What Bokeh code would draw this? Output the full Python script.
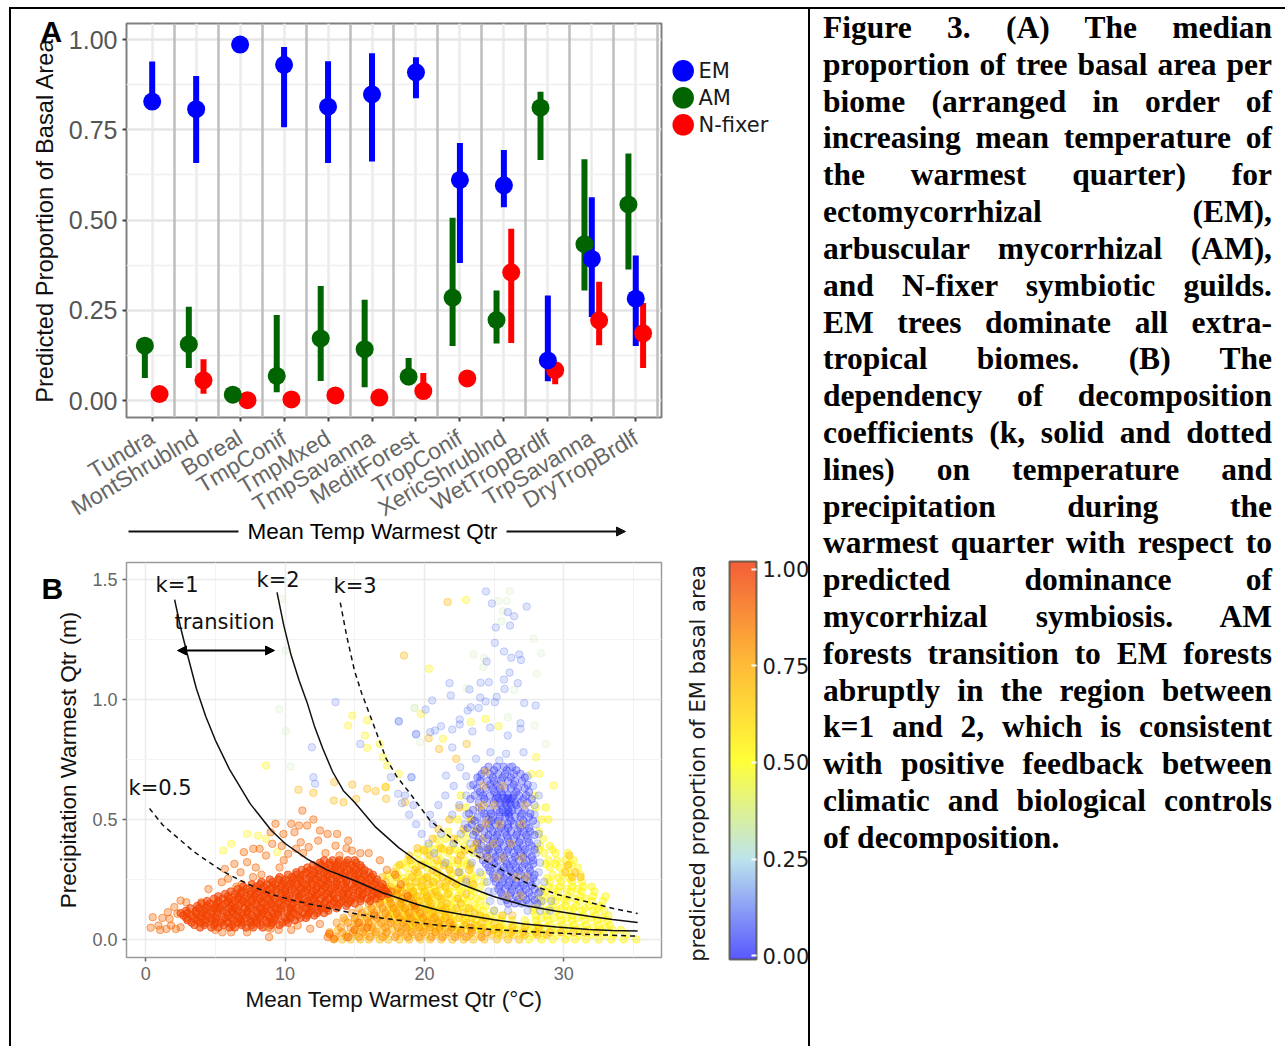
import math
import numpy as np
from bokeh.embed import file_html
from bokeh.resources import INLINE
from bokeh.plotting import figure
from bokeh.layouts import row, column
from bokeh.models import (Range1d, FixedTicker, Grid, Label, Arrow, NormalHead, Div, Spacer,
                          LinearColorMapper, ColorBar, ColumnDataSource, NumeralTickFormatter)

biomes = ["Tundra", "MontShrublnd", "Boreal", "TmpConif", "TmpMxed", "TmpSavanna", "MeditForest",
          "TropConif", "XericShrublnd", "WetTropBrdlf", "TrpSavanna", "DryTropBrdlf"]
em_mid = [0.828, 0.807, 0.986, 0.930, 0.814, 0.848, 0.909, 0.611, 0.596, 0.111, 0.392, 0.282]
em_lo = [0.815, 0.658, 0.980, 0.757, 0.658, 0.662, 0.837, 0.381, 0.535, 0.053, 0.231, 0.151]
em_hi = [0.939, 0.899, 0.992, 0.979, 0.940, 0.962, 0.951, 0.713, 0.694, 0.291, 0.563, 0.402]
am_mid = [0.152, 0.156, 0.016, 0.068, 0.172, 0.142, 0.066, 0.285, 0.223, 0.811, 0.433, 0.543]
am_lo = [0.062, 0.090, 0.010, 0.023, 0.054, 0.037, 0.050, 0.151, 0.158, 0.666, 0.305, 0.363]
am_hi = [0.158, 0.260, 0.022, 0.237, 0.317, 0.279, 0.118, 0.506, 0.305, 0.855, 0.668, 0.684]
nf_mid = [0.018, 0.056, 0.001, 0.003, 0.014, 0.008, 0.026, 0.061, 0.355, 0.084, 0.222, 0.186]
nf_lo = [0.012, 0.019, 0.000, 0.000, 0.008, 0.003, 0.008, 0.055, 0.159, 0.045, 0.153, 0.090]
nf_hi = [0.024, 0.114, 0.004, 0.006, 0.020, 0.014, 0.076, 0.067, 0.476, 0.100, 0.329, 0.270]

# contour curves of panel B (temperature, precipitation)
k05_x = [0.27, 1.2, 2.5, 3.5, 4.54, 5.6, 6.8, 8.0, 9.3, 10.8, 12.25, 14.98, 17.0, 19.3, 21.1, 24.96, 28.0, 31.8, 35.3]
k05_y = [0.546, 0.478, 0.413, 0.364, 0.322, 0.282, 0.246, 0.213, 0.183, 0.160, 0.142, 0.108, 0.089, 0.072, 0.058, 0.041, 0.031, 0.021, 0.014]
k1_x = [2.07, 2.5, 2.95, 3.63, 4.3, 5.0, 6.0, 7.49, 9.0, 10.0, 11.57, 13.0, 14.98, 17.0, 19.5, 21.0, 22.7, 25.0, 27.2, 29.5, 31.8, 33.5, 35.3]
k1_y = [1.416, 1.300, 1.196, 1.046, 0.930, 0.830, 0.710, 0.566, 0.455, 0.400, 0.336, 0.290, 0.246, 0.195, 0.146, 0.122, 0.104, 0.082, 0.065, 0.052, 0.042, 0.038, 0.035]
k2_x = [9.42, 9.9, 10.44, 11.0, 11.57, 12.1, 12.71, 13.4, 14.18, 14.98, 16.5, 18.15, 19.5, 20.4, 22.7, 24.96, 27.2, 29.5, 31.8, 33.5, 35.3]
k2_y = [1.446, 1.310, 1.183, 1.080, 0.989, 0.890, 0.795, 0.700, 0.620, 0.572, 0.468, 0.383, 0.326, 0.300, 0.229, 0.179, 0.142, 0.118, 0.097, 0.083, 0.071]
k3_x = [13.96, 14.4, 14.98, 15.5, 16.1, 17.25, 18.0, 19.08, 20.4, 22.7, 24.96, 27.2, 29.5, 31.8, 33.5, 35.3]
k3_y = [1.404, 1.270, 1.120, 1.025, 0.933, 0.754, 0.680, 0.600, 0.496, 0.385, 0.308, 0.239, 0.188, 0.155, 0.130, 0.108]

# scatter of panel B, read row by row: {precipitation: [temperatures]}
red_core = {
 .05:[3.9,4.7,5.2,6.0,6.4,7.2,7.7,8.4],
 .07:[3.3,3.9,4.3,5.0,5.4,5.9,6.6,6.9,7.5,8.0,8.7,9.1,9.8,10.2],
 .09:[2.9,3.5,3.9,4.6,5.0,5.7,6.1,6.7,7.2,7.8,8.2,8.9,9.3,10.0,10.4,11.1,11.5],
 .11:[2.5,3.0,3.6,4.1,4.7,5.2,5.8,6.3,6.9,7.3,8.0,8.4,9.1,9.5,10.2,10.6,11.3,11.7,12.3,12.8],
 .13:[3.2,3.8,4.3,4.9,5.3,6.0,6.4,7.1,7.5,8.2,8.6,9.3,9.7,10.4,10.8,11.5,11.9,12.6,13.0,13.7],
 .15:[4.0,4.6,5.1,5.7,6.2,6.8,7.3,7.9,8.4,9.0,9.5,10.1,10.6,11.2,11.7,12.3,12.8,13.4,13.9,14.5,15.0],
 .17:[4.9,5.5,6.0,6.6,7.1,7.7,8.2,8.8,9.3,9.9,10.4,11.0,11.5,12.1,12.6,13.2,13.7,14.3,14.8,15.4,15.9,16.5],
 .19:[5.7,6.4,6.8,7.5,7.9,8.6,9.0,9.7,10.1,10.8,11.2,11.9,12.3,13.0,13.4,14.1,14.5,15.2,15.6,16.3,16.7,17.4],
 .21:[6.6,7.2,7.8,8.3,8.9,9.4,10.0,10.5,11.1,11.6,12.2,12.7,13.3,13.8,14.4,14.9,15.5,16.0,16.6,17.1],
 .23:[7.6,8.2,8.7,9.3,9.8,10.4,10.9,11.5,12.0,12.6,13.1,13.7,14.2,14.8,15.3,15.9,16.4,17.0],
 .25:[8.9,9.5,10.0,10.6,11.1,11.7,12.2,12.8,13.3,13.9,14.4,15.0,15.5,16.1,16.6],
 .27:[10.2,10.8,11.3,11.9,12.4,13.0,13.5,14.1,14.6,15.2,15.7,16.3],
 .29:[11.2,11.8,12.4,12.9,13.5,14.0,14.6,15.1,15.7],
 .31:[12.0,12.6,13.2,13.7,14.3,14.8,15.4],
 .33:[12.8,13.4,13.9,14.5,15.0],
 .06:[3.5,4.2,4.9,5.6,6.2,6.9,7.6,8.2,9.0,9.6],
 .08:[3.0,3.7,4.3,4.8,5.5,6.3,6.8,7.5,8.0,8.6,9.2,10.1,10.7],
 .10:[2.7,3.3,4.0,4.4,5.1,5.9,6.5,7.0,7.6,8.3,8.8,9.5,10.3,10.9,11.6,12.1],
 .12:[2.9,3.6,4.2,4.8,5.5,6.2,6.6,7.3,7.9,8.5,9.0,9.7,10.4,11.0,11.8,12.4,13.1],
 .14:[3.7,4.4,5.0,5.5,6.1,6.7,7.4,8.0,8.7,9.2,9.9,10.5,11.3,11.9,12.5,13.2,13.8,14.4],
 .16:[4.4,5.2,5.9,6.4,7.0,7.6,8.3,8.9,9.6,10.2,10.9,11.6,12.1,12.9,13.5,14.1,14.7,15.4,16.1],
 .18:[5.2,5.9,6.6,7.2,7.8,8.4,9.1,9.8,10.3,11.0,11.7,12.2,12.8,13.5,14.2,14.9,15.5,16.2,16.9],
 .20:[6.1,6.9,7.5,8.1,8.7,9.4,10.0,10.7,11.4,12.0,12.6,13.2,13.9,14.6,15.3,15.9,16.5,17.2],
 .22:[7.0,7.9,8.5,9.1,9.7,10.3,11.0,11.6,12.3,12.9,13.6,14.3,15.0,15.6,16.2,16.9],
 .24:[8.3,9.1,9.9,10.5,11.2,11.9,12.5,13.1,13.7,14.4,15.1,15.8,16.5],
 .26:[9.6,10.5,11.1,11.8,12.4,13.0,13.7,14.3,15.0,15.6,16.2],
 .28:[10.8,11.5,12.1,12.8,13.4,14.0,14.7,15.3,16.0],
 .30:[11.6,12.3,12.9,13.6,14.2,14.9,15.5],
 .32:[12.5,13.2,13.8,14.4,15.1],
}
orange_pts_x = [9.31,10.44,11.24,12.03,11.0,11.58,12.5,9.88,8.97,10.67,13.05,13.73,14.53,9.08,11.12,11.69,12.37,8.17,7.72,7.04,8.63,9.76,10.22,10.78,13.62,6.36,7.27,5.9,5.68,5.45,0.5,0.35,0.91,1.19,1.59,2.05,2.5,2.91,1.48,1.82,2.16,2.5,3.98,1.03,2.27,1.71,5.0,6.13,7.27,8.85,9.54,8.97,10.44,10.9,11.8,12.5,13.17,13.5,13.05,14.53,14.98,15.3,15.9,16.4,16.0,14.8,11.3,9.9,7.9,6.8,8.3,9.6,12.9,13.9,14.4,15.4,16.8,17.3,17.9,18.3,17.6,18.8,19.3,6.9,7.7,8.8,4.5,5.5,6.5]
orange_pts_y = [.482,.482,.537,.50,.475,.475,.454,.44,.447,.447,.44,.44,.412,.399,.405,.385,.412,.378,.378,.364,.35,.39,.357,.378,.391,.315,.322,.253,.294,.239,.093,.049,.058,.09,.114,.135,.162,.155,.044,.058,.044,.051,.155,.04,.107,.086,.04,.03,.03,.01,.04,.045,.04,.058,.045,.065,.024,.003,.01,.01,.04,.07,.05,.10,.36,.37,.36,.33,.30,.28,.27,.30,.36,.35,.38,.36,.33,.29,.27,.23,.20,.18,.14,.23,.26,.05,.21,.03,.22]
deep_rows = {
 .01:[13.6,14.4,15.3,16.1,17.0,17.9,18.8,19.6,20.5,21.3,22.2,23.0,24.1],
 .03:[13.2,14.1,14.9,15.6,16.5,17.3,18.3,19.1,19.9,20.8,21.7,22.6,23.4,24.5],
 .05:[14.0,14.7,15.5,16.2,17.2,18.1,18.7,19.6,20.4,21.1,22.0,23.3],
 .07:[13.7,14.5,15.2,16.0,16.9,17.6,18.5,19.3,20.2,21.0,21.8],
 .09:[14.2,15.0,15.9,16.6,17.4,18.2,19.0,19.9,20.7],
 .11:[14.8,15.5,16.4,17.2,18.0,18.9,19.7],
 .13:[15.3,16.2,17.0,17.8,18.6,19.4],
 .15:[16.0,16.8,17.6,18.3,19.2],
 .17:[16.7,17.5,18.4,19.0],
 .19:[17.1,18.0,18.7],
 .21:[17.3,18.1],
}
amber_rows = {
 .00:[13.5,14.1,14.7,15.4,16.0,16.8,17.4,18.2,18.9,19.7,20.4,21.2,22.0,22.8,23.5,24.3,25.2,26.0,26.8],
 .02:[13.2,14.4,15.1,15.8,16.5,17.2,18.0,18.6,19.3,20.1,20.8,21.5,22.4,23.2,24.0,24.8,25.6,26.4,27.2,28.1,28.8],
 .04:[13.8,15.0,15.7,16.3,17.0,17.7,18.4,19.0,19.7,20.4,21.1,21.9,22.6,23.4,24.1,25.0],
 .06:[15.3,16.0,16.7,17.4,18.0,18.7,19.4,20.0,20.7,21.4,22.1,22.9,23.6],
 .08:[14.3,15.0,15.8,16.4,17.1,17.8,18.5,19.1,19.8,20.5,21.2,21.9],
 .10:[15.4,16.1,16.8,17.4,18.1,18.8,19.5,20.1,20.8,21.5],
 .12:[15.9,16.6,17.3,18.0,18.6,19.3,20.0,20.7,21.3],
 .14:[16.3,17.0,17.7,18.4,19.1,19.7,20.4,21.2],
 .16:[16.8,17.5,18.2,18.9,19.6,20.3],
 .18:[17.4,18.1,18.8,19.5,20.2,21.0],
 .20:[17.7,18.4,19.2,20.0,20.8],
 .22:[17.5,18.3,19.0,19.8,21.5],
 .24:[17.2,18.6,19.4,20.6,22.0],
 .26:[17.0,18.0,19.1,20.2,21.3,30.6,31.2],
 .28:[17.8,19.5,20.9,22.4,30.1,30.8],
 .31:[18.2,19.8,21.4,23.3,30.3],
 .35:[18.9,20.4,22.6,24.0,30.4],
 .38:[19.5,21.2,23.5,24.5],
 .42:[20.6,22.1,24.2],
 .46:[21.0,22.8,23.8],
 .50:[21.8,23.4,24.6],
 .55:[22.5,23.9],
 .03:[25.3,26.2,27.1,28.0,29.0,29.8,30.7,31.5,32.4],
 .05:[24.2,25.4,26.3,27.2,28.2],
 .07:[23.0,24.1,25.0],
 .09:[21.5,22.5,23.4,24.4],
 .11:[20.6,21.8,22.8,23.6],
 .13:[20.2,21.5,22.3,23.2],
 .15:[20.5,21.6,22.6],
 .17:[20.1,21.2,22.4],
 .19:[19.2,20.5,21.7,23.0],
 .23:[20.3,21.1,22.3,23.5],
 .25:[19.9,21.7,23.0],
 .29:[19.3,20.6,21.8,23.2],
 .33:[19.0,20.9,22.4],
 .37:[20.0,21.8,22.9],
}
yellow_rows = {
 .00:[27.5,28.4,29.2,30.1,30.8,31.6,32.5,33.4,34.3,35.2],
 .02:[25.3,26.1,27.0,27.8,28.6,29.5,30.3,31.1,32.0,32.9,33.6,34.5],
 .04:[21.0,22.2,23.1,24.0,24.9,25.7,26.6,27.5,28.3,29.1,30.0,30.9,31.7,32.6,33.5,34.1],
 .06:[19.2,20.2,21.1,22.0,22.9,23.8,24.7,25.5,26.4,27.3,28.1,29.0,29.9,30.7,31.6,32.5,33.3],
 .08:[18.2,19.2,20.1,21.0,21.9,22.8,23.7,24.6,25.5,26.3,27.2,28.0,28.9,29.8,30.6,31.5,32.4,33.1],
 .10:[17.5,18.5,19.4,20.3,21.2,22.1,23.0,23.9,24.7,25.6,28.0,28.8,29.7,30.6,31.4,32.3,33.2],
 .12:[17.8,18.8,19.7,20.6,21.5,22.4,23.3,24.2,25.0,27.8,28.7,29.5,30.4,31.3,32.1,32.9],
 .14:[18.2,19.1,20.0,20.9,21.8,22.7,23.6,24.4,28.3,29.2,30.1,30.9,31.8,32.6],
 .16:[17.4,18.5,19.5,20.4,21.3,22.2,23.1,24.0,28.5,29.4,30.2,31.1,32.0,32.8],
 .18:[17.8,18.8,19.7,20.6,21.5,22.4,23.3,24.2,28.6,29.5,30.3,31.2,32.1,33.0],
 .20:[17.2,18.2,19.1,20.0,20.9,21.8,22.7,23.6,28.7,29.6,30.5,31.3,32.2],
 .22:[17.6,18.6,19.5,20.4,21.3,22.2,23.1,24.0,28.9,29.7,30.6,31.4,32.0],
 .24:[18.0,18.9,19.8,20.7,21.6,22.5,23.4,24.3,29.0,29.8,30.6,31.3],
 .27:[17.3,18.1,18.9,19.6,20.4,21.1,21.9,22.6,23.4,24.1,29.2,29.9,30.5,31.2],
 .30:[18.0,18.7,19.4,20.2,21.0,21.8,22.6,23.3,29.0,29.7,30.3,31.0],
 .33:[18.8,19.6,20.3,21.2,22.0,22.9,28.9,29.5,30.1,30.7],
 .36:[19.5,20.2,21.0,21.7,22.5,23.5,28.6,29.4,30.3],
 .39:[20.3,21.1,22.0,22.8,23.8,28.3,29.0],
 .42:[20.9,21.5,22.4,23.0,28.5],
 .45:[21.7,22.9,23.6,28.2],
 .50:[22.4,23.3,28.4,28.9],
 .55:[23.0,28.0,28.7],
 .60:[22.6,27.9],
 .05:[18.9,19.8,20.6,21.5,22.5,23.5,24.5,25.2,26.0,26.9,27.8,28.6,29.5,30.4,31.2,32.1,33.0],
 .09:[17.9,18.8,19.7,20.5,21.5,22.4,23.2,24.2,25.1,28.4,29.3,30.2,31.0,32.0,32.8],
 .13:[17.6,18.5,19.4,20.3,21.1,22.0,23.0,23.8,27.9,29.0,29.8,30.7,31.5,32.4],
 .17:[17.2,18.3,19.2,20.2,21.0,21.9,22.8,23.7,28.2,29.1,30.0,30.8,31.6],
 .21:[17.0,18.0,19.0,19.9,20.7,21.6,22.5,23.4,28.4,29.3,30.2,31.0],
 .255:[17.6,18.5,19.3,20.1,20.9,21.8,22.7,23.6,28.8,29.6,30.4],
 .315:[18.4,19.1,20.0,20.7,21.6,22.4,23.1,28.7,29.4,30.5],
 .375:[19.9,20.7,21.4,22.2,23.1,28.2,29.2],
}
yellow_pts_x = [22.98,20.33,23.32,24.39,25.32,19.74,21.33,28.02,27.68,28.25,29.27,8.63,14.82,14.53,15.89,15.73,15.89,16.8,17.02,17.32,18.16,17.25,7.27,8.06,8.63,6.13,5.56,9.42]
yellow_pts_y = [1.415,1.128,.906,.919,.889,.94,.836,.76,.69,.69,.642,.725,.933,.892,.913,.85,.799,.815,.76,.725,.69,.635,.44,.433,.42,.399,.371,.364]
orange_high_x = [18.54,21.05,20.3,22.28,23.03,10.96,13.53,14.82,15.89,16.5,17.2,12.03,14.19,15.1,13.5,17.25,18.6,21.67]
orange_high_y = [1.183,.794,.839,.753,.815,.624,.656,.646,.628,.618,.635,.611,.572,.586,.579,.586,.572,1.406]
pale_x = [26.14,25.91,25.3,25.64,25.52,27.84,28.36,23.53,24.28,24.23,28.07,26.43,23.05,19.28,25.98,19.69,27.91,28.7,9.58,10.04,10.4,10.04,9.76,19.29]
pale_y = [1.451,1.41,1.41,1.368,1.326,1.253,1.193,1.188,1.172,1.135,1.107,1.04,1.047,.965,.926,.822,.892,.815,.96,.868,.721,1.204,1.419,.965]
lav_x = [24.41,24.84,25.98,26.43,27.34,25.12,26.14,25.05,25.71,26.23,26.8,26.93,24.46,26.11,24.03,24.62,25.71,26.7,21.8,21.89,23.23,25.75,25.18,25.05,24.0,24.39,20.56,20.08,23.32,23.89,27.98,27.16,23.1,22.53,22.53,24.71,23.44,20.76,20.42,19.4,21.19,22.0,26.89,26.89,25.98,25.86,27.11,22.0,23.7,24.73,25.37,26.1,22.57,21.55,19.06,18.15,13.62,18.16,19.4,15.39,11.92,17.59,19.07,12.03,12.15,18.11,18.39]
lav_y = [1.45,1.40,1.364,1.347,1.387,1.30,1.308,1.236,1.20,1.174,1.188,1.165,1.158,1.112,1.07,1.072,1.083,1.068,1.068,1.017,1.042,1.044,1.011,.989,1.008,.992,.996,.958,.968,.965,.975,.985,.954,.917,.896,.883,.867,.871,.864,.854,.889,.875,.901,.878,.85,.774,.78,.80,.753,.78,.746,.718,.718,.683,.676,.91,.989,.908,.857,.815,.801,.676,.676,.676,.649,.607,.568]
lav_rows = {
 .12:[25.0,26.0,27.4,28.3,29.0],
 .16:[24.7,25.5,28.4,29.1],
 .20:[24.6,25.0,28.3],
 .24:[23.0,24.5,28.0,28.6],
 .28:[22.5,24.0,28.2],
 .32:[21.5,23.4,28.3],
 .36:[20.7,23.8,28.0],
 .40:[20.3,22.1,23.3,28.1],
 .44:[19.8,21.2,22.6,28.2],
 .48:[19.4,20.6,22.9,28.0],
 .52:[18.9,20.4,22.0,23.0,27.9],
 .56:[19.2,21.0,22.5,27.9],
 .60:[18.6,21.5,23.0,24.1,28.2],
 .64:[22.1,23.3,27.8],
 .68:[23.0,24.0,27.4],
}
blue_rows = {
 .72:[24.6,25.2,25.7,26.3],
 .69:[24.1,24.7,25.3,25.8,26.4,26.9],
 .66:[24.0,24.5,25.0,25.5,26.0,26.5,27.0],
 .63:[23.8,24.4,24.9,25.4,25.8,26.2,26.7,27.2],
 .60:[23.6,24.2,24.7,25.2,25.6,26.0,26.4,26.8,27.3],
 .57:[23.9,24.5,25.0,25.4,25.8,26.1,26.5,26.9,27.4],
 .54:[23.5,24.1,24.7,25.2,25.6,26.0,26.3,26.7,27.2],
 .51:[23.8,24.4,24.9,25.4,25.8,26.1,26.5,26.9,27.5],
 .48:[23.4,24.1,24.6,25.1,25.6,26.0,26.4,26.8,27.3],
 .45:[23.7,24.3,24.9,25.3,25.8,26.2,26.7,27.1,27.6],
 .42:[23.9,24.5,25.0,25.5,26.0,26.4,26.9,27.4],
 .39:[24.1,24.7,25.2,25.7,26.2,26.6,27.1,27.7],
 .36:[24.4,24.9,25.4,25.9,26.4,26.9,27.4],
 .33:[24.2,24.8,25.3,25.8,26.3,26.8,27.3,27.8],
 .30:[24.6,25.2,25.7,26.1,26.6,27.0,27.5],
 .27:[24.9,25.4,25.9,26.4,26.9,27.4,27.9],
 .24:[25.1,25.6,26.1,26.6,27.0,27.6],
 .21:[25.3,25.8,26.3,26.8,27.3,27.9],
 .18:[25.6,26.1,26.6,27.1,27.7],
 .15:[26.0,26.5,27.0,27.5,28.1],
 .59:[25.3,25.7,26.0,26.3],
 .56:[25.5,25.9,26.2,26.6],
 .53:[25.4,25.8,26.1],
 .705:[24.3,25.0,25.9,26.6],
 .675:[23.8,24.9,25.6,26.2,27.2],
 .645:[23.5,24.7,25.2,26.4,27.4],
 .615:[24.0,25.0,25.5,26.6,27.5],
 .585:[23.3,24.3,25.1,25.9,26.2,27.1,27.7],
 .525:[23.2,24.3,24.8,26.0,27.0,27.6],
 .495:[23.6,24.8,25.3,26.2,27.1,27.8],
 .465:[23.1,24.0,24.7,25.5,26.0,26.9,27.5],
 .435:[23.5,24.6,25.2,25.9,26.6,27.3,27.9],
 .405:[23.8,24.9,25.4,26.1,26.8,27.5],
 .375:[23.9,24.6,25.3,26.0,26.7,27.2,27.9],
 .345:[24.5,25.1,25.7,26.5,27.1,27.7],
 .315:[24.4,25.0,25.9,26.4,27.2,27.8],
 .285:[24.7,25.5,26.2,26.8,27.6],
 .255:[25.0,25.7,26.3,27.2,27.8],
 .225:[25.4,26.0,26.5,27.1,27.7],
 .195:[25.5,26.2,26.9,27.5,28.2],
 .165:[25.9,26.7,27.3,27.9],
}
mixed_rows = {
 .10:[24.0,25.6,26.3],
 .18:[25.9,26.9],
 .26:[25.2,26.6,27.3],
 .34:[24.6,25.6,27.0],
 .40:[23.7,25.0,26.2],
 .48:[24.4,25.4,27.0],
 .56:[24.2,25.0,27.2],
 .64:[24.2,25.6],
 .70:[24.4],
}
cb_ticks = [0, 0.25, 0.5, 0.75, 1]
leg_names = ["EM", "AM", "N-fixer"]
leg_cols = ["#0000ff", "#006400", "#ff0000"]


def flat(rows):
    xs, ys = [], []
    for yy, vals in rows.items():
        for xx in vals:
            xs.append(xx)
            ys.append(yy)
    return xs, ys


def make_palette():
    stops = [(0, (42, 42, 255)), (.25, (170, 220, 232)), (.5, (255, 255, 0)), (.75, (255, 165, 0)), (1, (240, 50, 0))]
    out = []
    for t in np.linspace(0, 1, 256):
        c = [int(round(np.interp(t, [s[0] for s in stops], [s[1][i] for s in stops]))) for i in range(3)]
        out.append("#%02x%02x%02x" % tuple(c))
    return out


mapper = LinearColorMapper(palette=make_palette(), low=-0.01, high=1.02)
SANS = "Liberation Sans"
DJ = "DejaVu Sans"
PAGE_W, PAGE_H = 1285, 1046

# ---------- Panel A
ax = lambda px: 1 + (px - 151.7) / 43.96
ay = lambda py: (400 - py) / 361
pa = figure(width=797, height=544, output_backend="svg", toolbar_location=None,
            x_range=Range1d(ax(126), ax(661)), y_range=Range1d(ay(417), ay(23)),
            min_border_left=115, min_border_right=147, min_border_top=14, min_border_bottom=136)
pos = list(range(1, 13))
pa.xaxis.ticker = FixedTicker(ticks=pos)
pa.xaxis.major_label_overrides = {i: b for i, b in zip(pos, biomes)}
pa.xaxis.major_label_orientation = math.radians(31)
pa.xaxis.major_label_standoff = 14
pa.xaxis.major_label_text_font = SANS
pa.xaxis.major_label_text_font_size = "23px"
pa.xaxis.major_label_text_color = "#666666"
pa.yaxis.ticker = FixedTicker(ticks=[0, .25, .5, .75, 1], minor_ticks=[.125, .375, .625, .875])
pa.yaxis.formatter = NumeralTickFormatter(format="0.00")
pa.yaxis.major_label_text_font = SANS
pa.yaxis.major_label_text_font_size = "25px"
pa.yaxis.major_label_text_color = "#555555"
pa.yaxis.axis_label = "Predicted Proportion of Basal Area"
pa.yaxis.axis_label_text_font = SANS
pa.yaxis.axis_label_text_font_style = "normal"
pa.yaxis.axis_label_text_font_size = "23.7px"
pa.yaxis.axis_label_text_color = "#111111"
pa.yaxis.axis_label_standoff = 8
for a in (pa.xaxis[0], pa.yaxis[0]):
    a.axis_line_color = None
    a.major_tick_line_color = "#444444"
    a.major_tick_line_width = 2
    a.major_tick_out = 4
    a.major_tick_in = 0
    a.minor_tick_line_color = None
pa.outline_line_color = "#808080"
pa.outline_line_width = 2
pa.outline_line_alpha = 1
pa.xgrid.grid_line_color = "#ebebeb"
pa.xgrid.grid_line_width = 2.5
pa.ygrid.grid_line_color = "#e6e6e6"
pa.ygrid.grid_line_width = 2.5
pa.ygrid.minor_grid_line_color = "#efefef"
pa.ygrid.minor_grid_line_width = 1.5
pa.add_layout(Grid(dimension=0, ticker=FixedTicker(ticks=[i + .5 for i in pos]),
                   grid_line_color="#bebebe", grid_line_width=2.5), "center")
off = {"em": 0, "am": -0.167, "nf": 0.167}
series = {"em": (em_mid, em_lo, em_hi, "#0000ff"), "am": (am_mid, am_lo, am_hi, "#006400"),
          "nf": (nf_mid, nf_lo, nf_hi, "#ff0000")}
for key in ("am", "em", "nf"):
    mid, lo, hi, col = series[key]
    xs = [i + off[key] for i in pos]
    pa.segment(xs, lo, xs, hi, line_color=col, line_width=6)
for key in ("nf", "am", "em"):
    mid, lo, hi, col = series[key]
    pa.scatter([i + off[key] for i in pos], mid, size=18, fill_color=col, line_color=col, line_width=0)

# ---------- Panel B
bx = lambda px: (px - 133.3) / 14.69
by = lambda py: (939 - py) / 240
pb = figure(width=797, height=493, output_backend="svg", toolbar_location=None,
            x_range=Range1d(bx(113), bx(677)), y_range=Range1d(by(957), by(562)),
            min_border_left=102, min_border_right=131, min_border_top=9, min_border_bottom=89)
pb.xaxis.ticker = FixedTicker(ticks=[0, 10, 20, 30], minor_ticks=[5, 15, 25, 35])
pb.yaxis.ticker = FixedTicker(ticks=[0, .5, 1, 1.5], minor_ticks=[.25, .75, 1.25])
pb.yaxis.formatter = NumeralTickFormatter(format="0.0")
pb.xaxis.axis_label = "Mean Temp Warmest Qtr (°C)"
pb.yaxis.axis_label = "Precipitation Warmest Qtr (m)"
pb.yaxis.axis_label_standoff = 8
pb.xaxis.axis_label_standoff = 4
for a in (pb.xaxis[0], pb.yaxis[0]):
    a.axis_line_color = None
    a.major_tick_line_color = "#666666"
    a.major_tick_line_width = 1.5
    a.major_tick_out = 4
    a.major_tick_in = 0
    a.minor_tick_line_color = None
    a.major_label_text_font = SANS
    a.major_label_text_font_size = "18px"
    a.major_label_text_color = "#666666"
    a.axis_label_text_font = SANS
    a.axis_label_text_font_style = "normal"
    a.axis_label_text_font_size = "22.5px"
    a.axis_label_text_color = "#111111"
pb.outline_line_color = "#9a9a9a"
pb.outline_line_width = 1.5
pb.outline_line_alpha = 1
pb.grid.grid_line_color = "#ebebeb"
pb.grid.grid_line_width = 1.5
pb.grid.minor_grid_line_color = "#f3f3f3"
pb.grid.minor_grid_line_width = 1


def dots(xs, ys, pval, fa, la):
    src = ColumnDataSource(dict(x=xs, y=ys, p=[pval] * len(xs)))
    pb.scatter("x", "y", source=src, size=7.5, fill_color={"field": "p", "transform": mapper},
               line_color={"field": "p", "transform": mapper}, fill_alpha=fa, line_alpha=la, line_width=1)


dots(pale_x, pale_y, .33, .15, .25)
dots(*flat(yellow_rows), .53, .42, .5)
dots(yellow_pts_x, yellow_pts_y, .54, .3, .4)
dots(*flat(amber_rows), .7, .42, .5)
dots(orange_high_x, orange_high_y, .72, .3, .45)
dots(*flat(deep_rows), .82, .4, .5)
dots(orange_pts_x, orange_pts_y, .9, .35, .55)
dots(*flat(red_core), .98, .6, .7)
dots(lav_x, lav_y, .12, .22, .35)
dots(*flat(lav_rows), .12, .25, .35)
dots(*flat(blue_rows), .02, .33, .4)
dots(*flat(mixed_rows), .72, .3, .4)

for xs, ys, dash in ((k05_x, k05_y, "5 4"), (k1_x, k1_y, "solid"), (k2_x, k2_y, "solid"), (k3_x, k3_y, "5 4")):
    pb.line(xs, ys, line_color="#111111", line_width=1.5, line_dash=dash)
cb = ColorBar(color_mapper=mapper, location=(603, -2), width=27, height=398, padding=0, margin=0,
              ticker=FixedTicker(ticks=cb_ticks), formatter=NumeralTickFormatter(format="0.00"),
              major_label_text_font=DJ, major_label_text_font_size="21px", major_label_text_color="#1a1a1a",
              major_tick_line_color="#ffffff", major_tick_line_width=2, major_tick_in=5, major_tick_out=0,
              bar_line_color="#4a4a3a", bar_line_width=2, scale_alpha=0.78, label_standoff=6,
              background_fill_color=None, border_line_color=None)
pb.add_layout(cb, "center")

# ---------- overlay sheet in page pixels: letters, arrows, legend, free texts
ov = figure(width=PAGE_W, height=PAGE_H, output_backend="svg", toolbar_location=None,
            x_range=Range1d(0, PAGE_W), y_range=Range1d(PAGE_H, 0), min_border=0,
            x_axis_location=None, y_axis_location=None, outline_line_color=None,
            background_fill_color=None, border_fill_color=None, margin=(0, 0, 0, 0),
            styles={"position": "absolute", "left": "0px", "top": "0px", "grid-row": "auto",
                    "grid-column": "auto", "pointer-events": "none", "z-index": "5"})
ov.grid.visible = False
leg_y = [70.3, 97.3, 124.3]
ov.scatter([682.7] * 3, leg_y, size=21.5, fill_color=leg_cols, line_width=0)
for nm, yy in zip(leg_names, leg_y):
    ov.add_layout(Label(x=698, y=yy, text=nm, text_font=DJ, text_font_size="21px", text_color="#1a1a1a", text_baseline="middle"))
for txt, tx, ty in (("k=1", 155, 584), ("k=2", 256, 579), ("k=3", 333, 585), ("transition", 174, 621), ("k=0.5", 128, 787)):
    ov.add_layout(Label(x=tx, y=ty, text=txt, text_font=DJ, text_font_size="21px", text_color="#111111", text_baseline="middle"))
ov.add_layout(Label(x=40, y=31, text="A", text_font=SANS, text_font_style="bold", text_font_size="30px", text_color="#000000", text_baseline="alphabetic"))
ov.add_layout(Label(x=41, y=588, text="B", text_font=SANS, text_font_style="bold", text_font_size="30px", text_color="#000000", text_baseline="alphabetic"))
ov.add_layout(Label(x=247, y=531, text="Mean Temp Warmest Qtr", text_font=SANS, text_font_size="22.5px", text_color="#000000", text_baseline="middle"))
ov.add_layout(Arrow(end=None, x_start=128, y_start=531, x_end=238, y_end=531, line_color="#111111", line_width=2))
ov.add_layout(Arrow(end=NormalHead(size=9, fill_color="#111111", line_color="#111111"), x_start=506, y_start=531, x_end=625, y_end=531, line_color="#111111", line_width=2))
ov.add_layout(Arrow(start=NormalHead(size=9, fill_color="#000000"), end=NormalHead(size=9, fill_color="#000000"),
                    x_start=177, y_start=650, x_end=274, y_end=650, line_color="#000000", line_width=2))
ov.add_layout(Label(x=697, y=763, text="predicted proportion of EM basal area", angle=math.pi / 2,
                    text_font=DJ, text_font_size="21px", text_color="#1a1a1a", text_align="center", text_baseline="middle"))

# ---------- caption
caption = ["Figure 3. (A) The median", "proportion of tree basal area per", "biome (arranged in order of",
           "increasing mean temperature of", "the warmest quarter) for", "ectomycorrhizal (EM),",
           "arbuscular mycorrhizal (AM),", "and N-fixer symbiotic guilds.", "EM trees dominate all extra-",
           "tropical biomes. (B) The", "dependency of decomposition", "coefficients (k, solid and dotted",
           "lines) on temperature and", "precipitation during the", "warmest quarter with respect to",
           "predicted dominance of", "mycorrhizal symbiosis. AM", "forests transition to EM forests",
           "abruptly in the region between", "k=1 and 2, which is consistent", "with positive feedback between",
           "climatic and biological controls", "of decomposition."]
html = "".join(
    '<div style="width:449px;white-space:nowrap;height:36.82px;line-height:36.82px;text-align:%s;text-align-last:%s">%s</div>'
    % (("left", "left", t) if i == len(caption) - 1 else ("justify", "justify", t))
    for i, t in enumerate(caption))
cap = Div(text='<div style="font-family:\'Liberation Serif\';font-weight:bold;font-size:31.5px;color:#000;margin-left:13px;padding-top:1px">%s</div>' % html,
          width=475, height=1037, margin=(0, 0, 0, 0))


def bar(w, h):
    return Spacer(width=w, height=h, margin=(0, 0, 0, 0), styles={"background-color": "#000000"})


def gap(w, h):
    return Spacer(width=w, height=h, margin=(0, 0, 0, 0))


top = column(gap(PAGE_W, 7), row(gap(9, 2), bar(PAGE_W - 9, 2), spacing=0), spacing=0)
left_col = column(pa, pb, spacing=0)
body = row(gap(9, 1037), bar(2, 1037), left_col, bar(2, 1037), cap, spacing=0)
root = column(top, body, ov, spacing=0)
open("out.html", "w").write(file_html(root, INLINE))
